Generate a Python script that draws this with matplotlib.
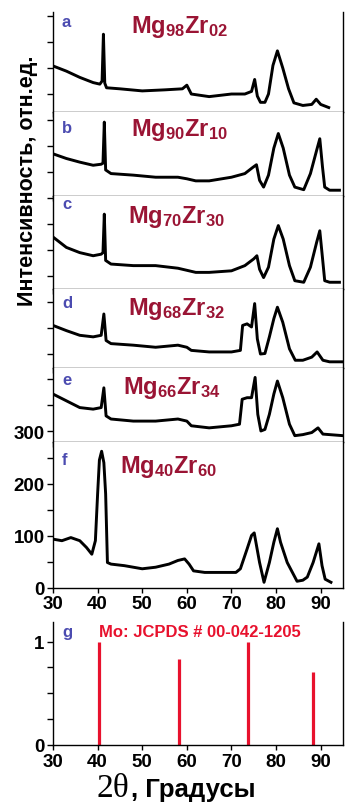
import matplotlib
matplotlib.use("Agg")
import matplotlib.pyplot as plt
import numpy as np

plt.rcParams['font.family'] = ['Liberation Sans', 'DejaVu Sans']
plt.rcParams['font.weight'] = 'bold'
plt.rcParams['mathtext.default'] = 'regular'

# ---------------- data (2theta in degrees, intensity in a.u.) ----------------
tt_a = [30, 33, 36, 39, 40.5, 41.0, 41.3, 41.6, 42, 45, 50, 55, 59, 60, 61, 65, 70, 73, 74.5, 75.2, 75.8, 76.5, 77.5, 78.3, 79.3, 80.3, 81.5, 82.8, 84, 86, 88, 89, 90, 91.8]
in_a = [89, 79, 67, 57, 54, 60, 150, 56, 47, 45, 41, 43, 45, 52, 35, 30, 35, 35, 40, 63, 31, 19, 19, 35, 90, 118, 85, 45, 18, 13, 15, 25, 15, 9]

tt_b = [30, 33, 36, 39, 40.8, 41.2, 41.5, 41.8, 43, 48, 53, 58, 60, 62, 65, 70, 73, 74.8, 75.6, 76.3, 77.2, 78.3, 79.5, 80.5, 81.6, 83, 84.2, 86.2, 87.7, 89.1, 89.8, 90.4, 90.9, 92, 94.2]
in_b = [81, 72, 65, 59, 61, 63, 142, 50, 43, 40, 36, 36, 33, 29, 29, 36, 43, 55, 60, 30, 17, 40, 92, 120, 92, 40, 17, 12, 43, 88, 110, 56, 17, 11, 11]

tt_c = [30, 33, 36, 39, 40.8, 41.2, 41.5, 41.8, 43, 48, 53, 58, 62, 65, 70, 73, 75.0, 75.7, 76.3, 77.2, 78.3, 79.5, 80.5, 81.6, 83, 84.2, 86.2, 87.7, 89.1, 89.8, 90.4, 90.9, 92, 94.2]
in_c = [100, 80, 70, 64, 67, 70, 144, 55, 48, 45, 45, 40, 32, 32, 35, 45, 58, 64, 38, 22, 42, 96, 122, 96, 45, 16, 13, 42, 90, 112, 60, 16, 13, 13]

tt_d = [30, 33, 36, 39, 40.8, 41.4, 41.9, 43, 48, 53, 58, 60, 61, 65, 70, 72.0, 72.5, 73.5, 74.5, 75.2, 75.8, 76.5, 77.5, 78.5, 79.5, 80.3, 81.5, 83, 84.3, 86, 88, 89.2, 90.5, 92, 95]
in_d = [82, 72, 63, 60, 63, 104, 53, 47, 44, 40, 44, 40, 34, 31, 31, 34, 82, 85, 79, 124, 56, 27, 28, 60, 95, 117, 88, 37, 15, 15, 21, 31, 15, 12, 12]

tt_e = [30, 33, 36, 39, 40.8, 41.4, 41.9, 43, 48, 53, 58, 60, 61, 65, 70, 71.8, 72.4, 73.5, 74.5, 75.3, 75.9, 76.6, 77.5, 78.5, 79.5, 80.3, 81.5, 83, 84.2, 86, 88, 89.4, 90.5, 92, 95]
in_e = [92, 79, 66, 63, 66, 104, 50, 44, 40, 40, 44, 40, 31, 27, 31, 34, 82, 85, 85, 124, 53, 21, 24, 53, 92, 117, 85, 34, 12, 14, 18, 27, 15, 14, 12]

tt_f = [30, 32, 34, 36, 37.5, 38.7, 39.5, 40.0, 40.4, 40.9, 41.4, 41.8, 42.2, 43, 46, 50, 53, 56, 58, 59.5, 60.5, 61.5, 64, 68, 71, 72, 73.5, 74.5, 75.1, 76.3, 77.3, 78.5, 79.5, 80.3, 81, 82.5, 84.7, 86, 87, 88.3, 89.6, 90.3, 91, 92.3]
in_f = [93, 90, 96, 90, 77, 64, 90, 180, 245, 262, 240, 180, 48, 45, 42, 36, 39, 45, 52, 55, 45, 32, 29, 29, 29, 36, 74, 100, 105, 48, 10, 48, 87, 113, 87, 48, 12, 14, 20, 48, 84, 42, 16, 10]

patterns = [(tt_a, in_a), (tt_b, in_b), (tt_c, in_c), (tt_d, in_d), (tt_e, in_e), (tt_f, in_f)]
panel_letters = ['a', 'b', 'c', 'd', 'e', 'f']
panel_titles = [r'Mg$_{98}$Zr$_{02}$', r'Mg$_{90}$Zr$_{10}$', r'Mg$_{70}$Zr$_{30}$',
                r'Mg$_{68}$Zr$_{32}$', r'Mg$_{66}$Zr$_{34}$', r'Mg$_{40}$Zr$_{60}$']
# vertical offsets (baseline of each stacked pattern)
offsets = [914, 753, 574, 422, 280, 0]
top_limit = 1107

# reference Mo lines
mo_pos = [40.2, 58.3, 73.8, 88.2]
mo_int = [1.0, 0.83, 1.0, 0.71]

x_ticks = [30, 40, 50, 60, 70, 80, 90]

# ---------------- layout ----------------
W, H = 345, 803
fig = plt.figure(figsize=(W / 100, H / 100), dpi=100)
fig.patch.set_facecolor('white')

left_px, right_px = 53, 343
zero_px = 588.5
px_per_unit = 0.52

title_color = '#9a1434'
letter_color = '#4b4bb0'
red = '#e8112d'

title_xy = [(47.4, 1068), (47.4, 870), (46.9, 703), (46.7, 526), (45.8, 374), (45.1, 222)]
letter_y = [1080, 876, 730, 539, 391, 237]


def style_axes(ax, show_labels):
    ax.set_xlim(30, 95)
    ax.spines['top'].set_visible(False)
    for s in ['left', 'right', 'bottom']:
        ax.spines[s].set_linewidth(1.0)
    ax.set_xticks(x_ticks)
    ax.tick_params(axis='both', direction='out', length=4, width=1,
                   labelsize=13.5, pad=2)
    ax.tick_params(axis='x', length=3.5)
    if not show_labels:
        ax.tick_params(axis='x', labelbottom=False)
    for lab in ax.get_xticklabels() + ax.get_yticklabels():
        lab.set_fontweight('bold')


for i, ((tt, yy), off) in enumerate(zip(patterns, offsets)):
    lo = off
    hi = top_limit if i == 0 else offsets[i - 1]
    y_bottom_px = zero_px - lo * px_per_unit
    h_px = (hi - lo) * px_per_unit
    ax = fig.add_axes([left_px / W, 1 - y_bottom_px / H, (right_px - left_px) / W, h_px / H])
    ax.plot(tt, np.array(yy) + off, color='black', lw=2.1, solid_joinstyle='round')
    ax.set_ylim(lo, hi)
    yt = np.arange(0, 1101, 50)
    yt = yt[(yt > lo) & (yt < hi)] if i < 5 else yt[(yt >= lo) & (yt < hi)]
    ax.set_yticks(yt)
    ax.set_yticklabels([str(int(v)) if v in (0, 100, 200, 300) else '' for v in yt])
    style_axes(ax, show_labels=(i == 5))
    ax.text(title_xy[i][0], title_xy[i][1], panel_titles[i], color=title_color,
            fontsize=17, fontweight='bold', ha='left', va='baseline', clip_on=False)
    ax.text(32.0, letter_y[i], panel_letters[i], color=letter_color,
            fontsize=12, fontweight='bold', ha='left', va='baseline')

# y label of the stacked plot
fig.text(28 / W, 1 - 181 / H, 'Интенсивность, отн.ед.', rotation=90,
         ha='center', va='center', fontsize=15.5, fontweight='bold')

# ---------------- reference panel g ----------------
g_top, g_bot = 623, 746
axg = fig.add_axes([left_px / W, 1 - g_bot / H, (right_px - left_px) / W, (g_bot - g_top) / H])
axg.vlines(mo_pos, 0, mo_int, color=red, lw=2.3)
axg.set_ylim(0, 1.19)
axg.set_yticks([0, 0.25, 0.5, 0.75, 1.0])
axg.set_yticklabels(['0', '', '', '', '1'])
style_axes(axg, show_labels=True)
axg.text(32.2, 1.055, 'g', color=letter_color, fontsize=12, fontweight='bold',
         ha='left', va='baseline')
axg.text(40.2, 1.055, 'Mo: JCPDS # 00-042-1205', color=red, fontsize=12,
         fontweight='bold', ha='left', va='baseline')

# x label: "2θ" in serif followed by ", Градусы" in bold sans
t1 = fig.text(97 / W, 1 - 797 / H, '2θ', family=['Liberation Serif', 'DejaVu Serif'],
              fontsize=24, fontweight='normal', ha='left', va='baseline')
fig.canvas.draw()
bb = t1.get_window_extent()
fig.text((bb.x1 + 1) / W, 1 - 797 / H, ', Градусы', fontsize=18.5, fontweight='bold',
         ha='left', va='baseline')

fig.savefig('out.png', dpi=100, facecolor='white')
